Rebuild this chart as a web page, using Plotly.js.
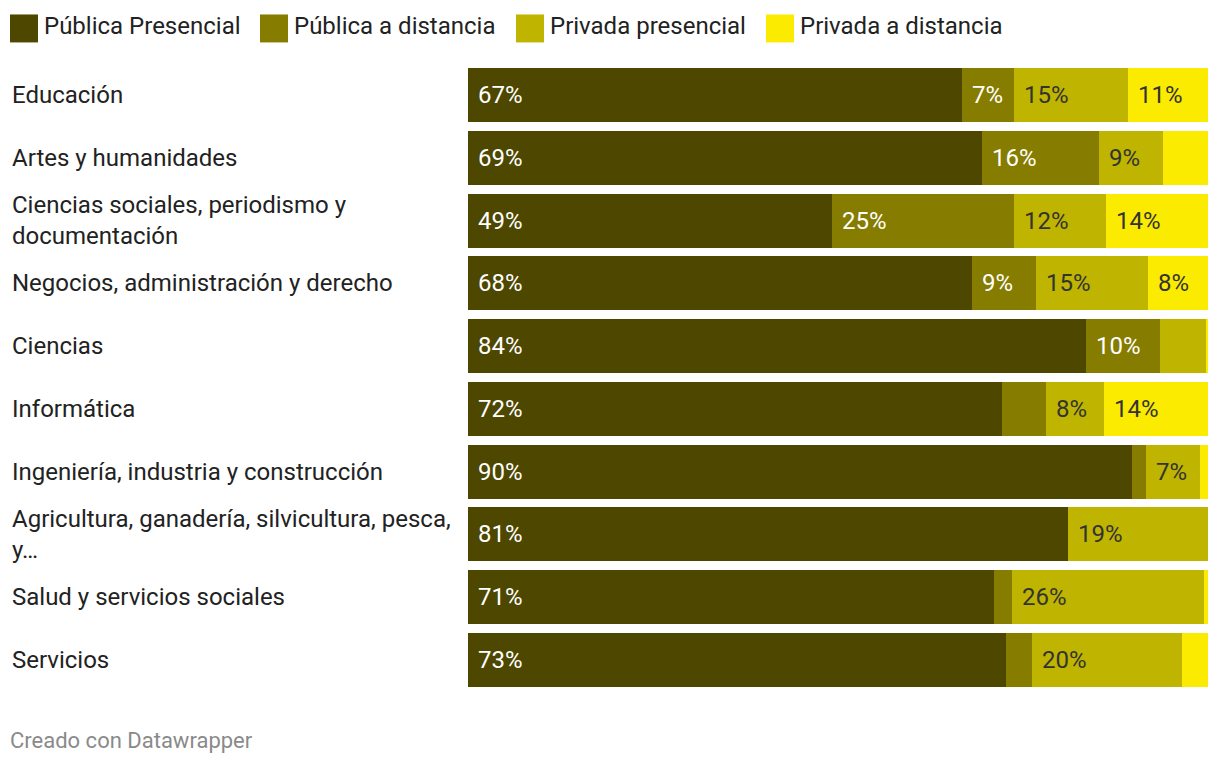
<!DOCTYPE html>
<html><head><meta charset="utf-8">
<script src="https://cdn.plot.ly/plotly-3.0.1.min.js"></script>
<style>html,body{margin:0;padding:0;background:#fff}#chart{width:1220px;height:764px}</style>
</head><body><div id="chart"></div>
<script>
const categories = [
  "Educación",
  "Artes y humanidades",
  "Ciencias sociales, periodismo y<br>documentación",
  "Negocios, administración y derecho",
  "Ciencias",
  "Informática",
  "Ingeniería, industria y construcción",
  "Agricultura, ganadería, silvicultura, pesca,<br>y…",
  "Salud y servicios sociales",
  "Servicios"
];
const seriesNames = ["Pública Presencial", "Pública a distancia", "Privada presencial", "Privada a distancia"];
const publicaPresencial = [66.8, 69.4, 49.2, 68.1, 83.5, 72.2, 89.7, 81.1, 71.1, 72.7];
const publicaDistancia  = [7.0, 15.9, 24.6, 8.6, 10.0, 5.9, 1.9, 0, 2.4, 3.5];
const privadaPresencial = [15.4, 8.6, 12.4, 15.2, 6.2, 7.8, 7.3, 18.9, 26.0, 20.3];
const privadaDistancia  = [10.8, 6.1, 13.8, 8.1, 0.3, 14.1, 1.1, 0, 0.5, 3.5];

const series = [publicaPresencial, publicaDistancia, privadaPresencial, privadaDistancia];
const colors = ["#4d4700", "#857c00", "#bfb400", "#fbeb00"];
const textColors = ["#ffffff", "#ffffff", "#333333", "#333333"];
const FONT = "Roboto, sans-serif";
const FS = 24;
const ids = categories.map((c, i) => "c" + i);

const traces = series.map((vals, s) => ({
  type: "bar", orientation: "h", y: ids, x: vals, name: seriesNames[s],
  marker: {color: colors[s], line: {width: 0}}, hoverinfo: "skip", showlegend: false
}));

const annotations = [];
categories.forEach((c, i) => {
  annotations.push({xref: "paper", yref: "y", x: (10 - 468) / 740, y: ids[i], text: c,
    xanchor: "left", yanchor: "middle", align: "left", showarrow: false,
    font: {family: FONT, size: FS, color: "#222222"}});
});
categories.forEach((c, i) => {
  let start = 0;
  series.forEach((vals, s) => {
    const v = vals[i];
    if (v >= 6.5) {
      annotations.push({xref: "x", yref: "y", x: start, y: ids[i], xshift: 8,
        text: Math.round(v) + "%", xanchor: "left", yanchor: "middle", showarrow: false,
        font: {family: FONT, size: FS, color: textColors[s]}});
    }
    start += v;
  });
});
const legendX = [10, 260, 516, 766];
const shapes = [];
seriesNames.forEach((n, s) => {
  shapes.push({type: "rect", xref: "paper", yref: "paper", layer: "above",
    x0: (legendX[s] - 468) / 740, x1: (legendX[s] + 28 - 468) / 740,
    y0: 1 + (63.6 - 14) / 627.8, y1: 1 + (63.6 - 42) / 627.8,
    fillcolor: colors[s], line: {width: 0}});
  annotations.push({xref: "paper", yref: "paper", x: (legendX[s] + 32 - 468) / 740,
    y: 1 + (63.6 - 26) / 627.8, text: n, xanchor: "left", yanchor: "middle", showarrow: false,
    font: {family: FONT, size: FS, color: "#222222"}});
});
annotations.push({xref: "paper", yref: "paper", x: (8 - 468) / 740, y: -(741 - 691.4) / 627.8,
  text: "Creado con Datawrapper", xanchor: "left", yanchor: "middle", showarrow: false,
  font: {family: FONT, size: 22, color: "#8a8a8a"}});

const layout = {
  width: 1220, height: 764, barmode: "stack", bargap: 0.14,
  margin: {l: 468, r: 12, t: 63.6, b: 72.6, pad: 0},
  paper_bgcolor: "#ffffff", plot_bgcolor: "#ffffff",
  xaxis: {range: [0, 100], visible: false, fixedrange: true},
  yaxis: {type: "category", range: [9.5, -0.5], visible: false, fixedrange: true},
  annotations: annotations, shapes: shapes, showlegend: false
};
Plotly.newPlot("chart", traces, layout, {displayModeBar: false, staticPlot: true});
</script></body></html>
